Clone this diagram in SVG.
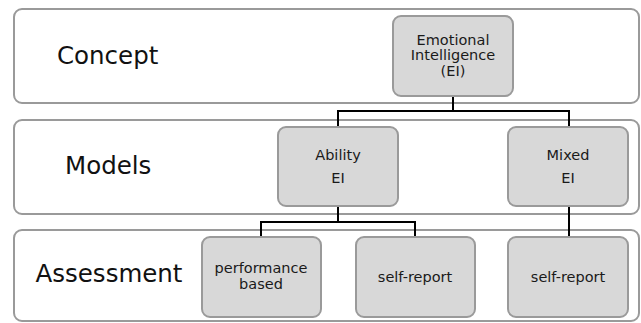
<svg xmlns="http://www.w3.org/2000/svg" width="641" height="323" viewBox="0 0 641 323">
<style>
.band{fill:#ffffff;stroke:#9a9a9a;stroke-width:2}
.node{fill:#d8d8d8;stroke:#9a9a9a;stroke-width:2}
.lbl{font-family:"DejaVu Sans",sans-serif;font-size:24.5px;fill:#111}
.t{font-family:"DejaVu Sans",sans-serif;font-size:14.5px;fill:#1a1a1a;text-anchor:middle}
.conn{fill:none;stroke:#000;stroke-width:2}
</style>
<rect width="641" height="323" fill="#ffffff"/>
<g id="band-concept"><rect class="band" x="14" y="9" width="625" height="94" rx="8"/><text class="lbl" x="57" y="63.5">Concept</text></g>
<g id="band-models"><rect class="band" x="14" y="120" width="625" height="94" rx="8"/><text class="lbl" x="65" y="173.5">Models</text></g>
<g id="band-assessment"><rect class="band" x="14" y="230" width="625" height="91" rx="8"/><text class="lbl" x="35.5" y="282">Assessment</text></g>
<g id="connectors">
<path class="conn" d="M453 96V111M338 127V111H569V127"/>
<path class="conn" d="M338 206V222M261 237V222H415V237"/>
<path class="conn" d="M569 206V237"/>
</g>
<g id="ei"><rect class="node" x="393" y="16" width="120" height="80" rx="8"/><text class="t" x="453" y="45">Emotional</text><text class="t" x="453" y="60">Intelligence</text><text class="t" x="453" y="75.5">(EI)</text></g>
<g id="ability"><rect class="node" x="278" y="127" width="120" height="79" rx="8"/><text class="t" x="338" y="160">Ability</text><text class="t" x="338" y="182.5">EI</text></g>
<g id="mixed"><rect class="node" x="508" y="127" width="120" height="79" rx="8"/><text class="t" x="568" y="160">Mixed</text><text class="t" x="568" y="182.5">EI</text></g>
<g id="performance"><rect class="node" x="202" y="237" width="119" height="80" rx="8"/><text class="t" x="261" y="273">performance</text><text class="t" x="261" y="289">based</text></g>
<g id="selfreport1"><rect class="node" x="356" y="237" width="119" height="80" rx="8"/><text class="t" x="415" y="281.5">self-report</text></g>
<g id="selfreport2"><rect class="node" x="508" y="237" width="120" height="80" rx="8"/><text class="t" x="568" y="281.5">self-report</text></g>
</svg>
